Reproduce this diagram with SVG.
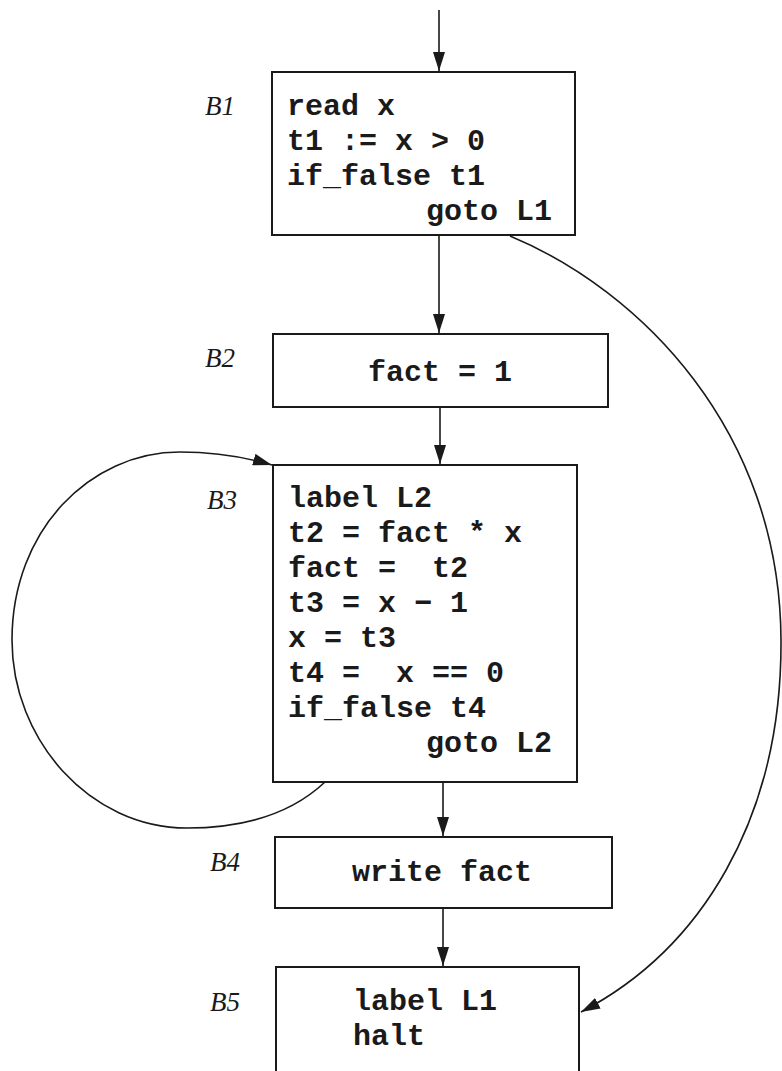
<svg xmlns="http://www.w3.org/2000/svg" width="782" height="1071" viewBox="0 0 782 1071">
<style>
.box{fill:#fff;stroke:#1a1a1a;stroke-width:2}
.code{font-family:"Liberation Mono","Courier New",monospace;font-weight:bold;font-size:30px;fill:#1a1a1a;white-space:pre}
.lbl{font-family:"Liberation Serif","Times New Roman",serif;font-style:italic;font-size:27px;fill:#1a1a1a}
.edge{fill:none;stroke:#1a1a1a;stroke-width:1.6}
</style>
<defs>
<marker id="ah" markerUnits="userSpaceOnUse" markerWidth="20" markerHeight="12" refX="19" refY="6" orient="auto">
<path d="M0,0 L19,6 L0,12 z" fill="#1a1a1a"/>
</marker>
</defs>
<rect width="782" height="1071" fill="#fff"/>
<g id="edges">
<line class="edge" x1="439" y1="10" x2="439" y2="71" marker-end="url(#ah)"/>
<line class="edge" x1="439" y1="235" x2="439" y2="333" marker-end="url(#ah)"/>
<line class="edge" x1="440" y1="407" x2="440" y2="464" marker-end="url(#ah)"/>
<line class="edge" x1="443" y1="782" x2="443" y2="836" marker-end="url(#ah)"/>
<line class="edge" x1="443" y1="908" x2="443" y2="966" marker-end="url(#ah)"/>
<path class="edge" d="M510,236 C640,290 780,430 781,640 C782,820 700,950 581,1012" marker-end="url(#ah)"/>
<path class="edge" d="M325,782 C290,815 240,828 187,828 C90,828 12,740 12,640 C12,530 90,452 180,452 C215,452 245,457 272,465" marker-end="url(#ah)"/>
</g>
<g id="B1">
<rect class="box" x="272" y="72" width="303" height="163"/>
<text class="lbl" x="205" y="115">B1</text>
<text class="code" x="287" y="115">read x</text>
<text class="code" x="287" y="150">t1 := x &gt; 0</text>
<text class="code" x="287" y="185">if_false t1</text>
<text class="code" x="426" y="220">goto L1</text>
</g>
<g id="B2">
<rect class="box" x="273" y="334" width="335" height="73"/>
<text class="lbl" x="205" y="367">B2</text>
<text class="code" x="368" y="381">fact = 1</text>
</g>
<g id="B3">
<rect class="box" x="273" y="465" width="304" height="317"/>
<text class="lbl" x="207" y="509">B3</text>
<text class="code" x="288" y="507">label L2</text>
<text class="code" x="288" y="542">t2 = fact * x</text>
<text class="code" x="288" y="577" xml:space="preserve">fact =  t2</text>
<text class="code" x="288" y="612">t3 = x − 1</text>
<text class="code" x="288" y="647">x = t3</text>
<text class="code" x="288" y="682" xml:space="preserve">t4 =  x == 0</text>
<text class="code" x="288" y="717">if_false t4</text>
<text class="code" x="426" y="752">goto L2</text>
</g>
<g id="B4">
<rect class="box" x="275" y="837" width="337" height="71"/>
<text class="lbl" x="210" y="871">B4</text>
<text class="code" x="352" y="881">write fact</text>
</g>
<g id="B5">
<rect class="box" x="276" y="967" width="303" height="110"/>
<text class="lbl" x="210" y="1011">B5</text>
<text class="code" x="353" y="1010">label L1</text>
<text class="code" x="353" y="1045">halt</text>
</g>
</svg>
